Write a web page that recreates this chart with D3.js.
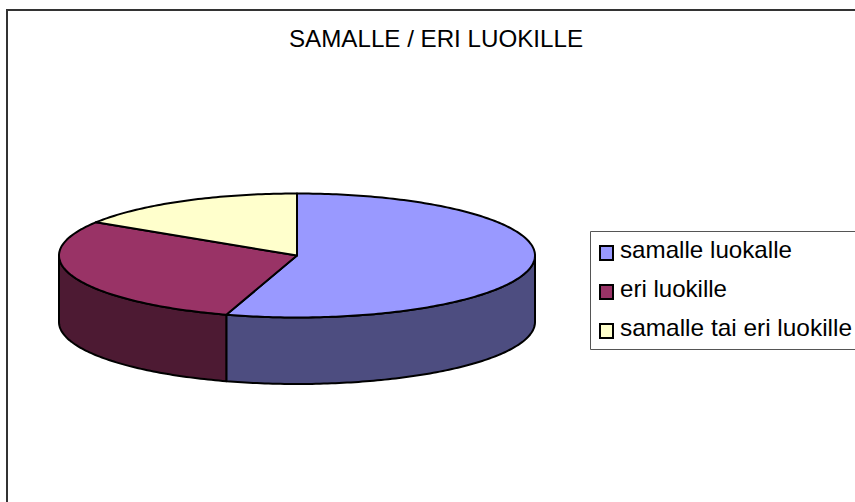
<!DOCTYPE html>
<html>
<head>
<meta charset="utf-8">
<script src="https://cdn.jsdelivr.net/npm/d3@7"></script>
<style>
  html, body { margin: 0; padding: 0; background: #fff; }
  svg { display: block; }
  text { font-family: "Liberation Sans", Arial, sans-serif; fill: #000; }
</style>
</head>
<body>
<div id="chart"></div>
<script>
const categories = ["samalle luokalle", "eri luokille", "samalle tai eri luokille"];
const shares = [54.8, 29.2, 16.0];
const topColors = ["#9999ff", "#993366", "#ffffcc"];
const sideColors = ["#4d4d80", "#4d1a33", "#808066"];
const chartTitle = "SAMALLE / ERI LUOKILLE";

const width = 855, height = 502;
const svg = d3.select("#chart").append("svg")
  .attr("width", width)
  .attr("height", height);

// outer frame, runs off the right and bottom of the picture
svg.append("path")
  .attr("d", "M7," + height + "V10H" + width)
  .attr("fill", "none")
  .attr("stroke", "#333")
  .attr("stroke-width", 2);

svg.append("text")
  .attr("x", 436)
  .attr("y", 46.5)
  .attr("text-anchor", "middle")
  .attr("font-size", 24)
  .attr("textLength", 294)
  .attr("lengthAdjust", "spacingAndGlyphs")
  .text(chartTitle);

// unit circle -> screen
var x = d3.scaleLinear().domain([-1, 1]).range([59, 535]);
var y = d3.scaleLinear().domain([-1, 1]).range([193.5, 317.5]);
var depth = 66.5;

var pie = d3.pie().sort(null);
var slices = pie(shares);

function rimPoints(a0, a1) {
  var n = Math.max(2, Math.ceil((a1 - a0) * 60));
  return d3.range(n + 1).map(function(i) {
    var a = a0 + (a1 - a0) * i / n;
    return [x(Math.sin(a)), y(-Math.cos(a))];
  });
}

var line = d3.line();

// side wall: only the front half of the rim shows
var wall = svg.append("g");
slices.forEach(function(d, i) {
  var a0 = Math.max(d.startAngle, Math.PI / 2);
  var a1 = Math.min(d.endAngle, Math.PI * 1.5);
  if (a1 <= a0) return;
  var rim = rimPoints(a0, a1);
  var lower = rim.slice().reverse().map(function(p) { return [p[0], p[1] + depth]; });
  wall.append("path")
    .attr("d", line(rim.concat(lower)) + "Z")
    .attr("fill", sideColors[i])
    .attr("stroke", "#000")
    .attr("stroke-width", 2)
    .attr("stroke-linejoin", "round");
});

// top face
var face = svg.append("g");
slices.forEach(function(d, i) {
  var pts = [[x(0), y(0)]].concat(rimPoints(d.startAngle, d.endAngle));
  face.append("path")
    .attr("d", line(pts) + "Z")
    .attr("fill", topColors[i])
    .attr("stroke", "#000")
    .attr("stroke-width", 2)
    .attr("stroke-linejoin", "round");
});

// legend
var legend = svg.append("g");
legend.append("path")
  .attr("d", "M" + width + ",231.5H590.5V349.5H" + width)
  .attr("fill", "#fff")
  .attr("stroke", "#555")
  .attr("stroke-width", 1);

var rowY = d3.scalePoint().domain(categories).range([253, 331]);
var rowLengths = [172, 107, 232];
categories.forEach(function(c, i) {
  legend.append("rect")
    .attr("x", 600)
    .attr("y", rowY(c) - 7)
    .attr("width", 13)
    .attr("height", 14)
    .attr("fill", topColors[i])
    .attr("stroke", "#000")
    .attr("stroke-width", 2);
  legend.append("text")
    .attr("x", 620)
    .attr("y", rowY(c) + 5)
    .attr("font-size", 24)
    .attr("textLength", rowLengths[i])
    .attr("lengthAdjust", "spacingAndGlyphs")
    .text(c);
});
</script>
</body>
</html>
